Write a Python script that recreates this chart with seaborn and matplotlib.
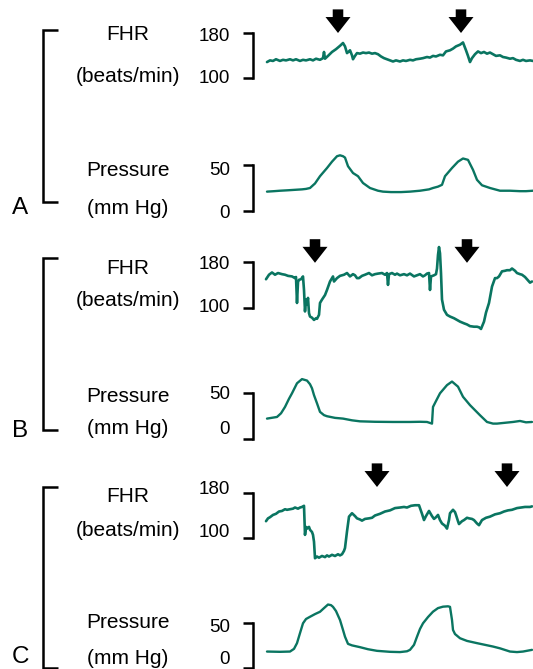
import matplotlib
matplotlib.use("Agg")
import matplotlib.pyplot as plt
from matplotlib.lines import Line2D
from matplotlib.transforms import ScaledTranslation
import seaborn as sns

# ---------------- recorded traces (time in samples, FHR in beats/min, pressure in mm Hg) ----------------
PANELS = ["A", "B", "C"]
FHR_TICKS = [100, 180]
PRESSURE_TICKS = [0, 50]

FHR_A_TIME = [1, 4, 7, 10, 14, 17, 20, 24, 27, 30, 34, 37, 40, 44, 47, 50, 54, 57, 58, 59, 62, 66, 70, 74,
              77, 79, 81, 83, 84, 86, 87, 89, 91, 94, 97, 100, 103, 106, 109, 112, 115, 118, 121, 124, 127,
              130, 134, 137, 140, 144, 147, 150, 154, 157, 161, 164, 167, 170, 174, 177, 180, 184, 187, 190,
              194, 197, 200, 202, 204, 206, 209, 212, 215, 218, 221, 224, 227, 230, 234, 237, 240, 244, 247,
              250, 254, 257, 260, 264, 267]
FHR_A_BPM = [129, 132, 131, 134, 131, 133, 132, 134, 132, 134, 131, 133, 132, 134, 132, 135, 133, 136, 147, 135,
             140, 147, 152, 158, 163, 157, 145, 148, 150, 141, 134, 140, 145, 144, 146, 145, 146, 144, 145,
             143, 139, 136, 134, 132, 130, 132, 130, 132, 131, 133, 132, 134, 135, 136, 138, 137, 140, 139,
             142, 141, 148, 150, 153, 157, 160, 164, 150, 140, 129, 136, 143, 148, 145, 147, 144, 146, 143,
             140, 141, 138, 137, 135, 136, 133, 131, 133, 131, 132, 131]

PRESSURE_A_TIME = [1, 8, 14, 22, 29, 36, 40, 44, 49, 54, 61, 66, 71, 74, 77, 79, 82, 87, 92, 97, 104, 112, 117,
                   125, 135, 144, 154, 163, 167, 172, 176, 179, 186, 192, 197, 202, 207, 211, 216, 224, 234,
                   244, 254, 260, 267]
PRESSURE_A_MMHG = [21, 21.5, 22, 22.5, 23, 23.5, 24, 25, 30, 38, 47, 54, 60, 61, 60, 58.5, 49, 41.5, 38, 30.5,
                   25, 22, 21, 20.5, 20.5, 21, 22, 23.5, 25, 26.5, 28.5, 38, 47, 54, 57.5, 56, 45, 34, 28, 25,
                   22, 22, 21.5, 21.5, 22]

FHR_B_TIME = [0, 3, 6, 9, 12, 16, 19, 22, 26, 29, 30, 31, 32, 33, 35, 37, 38, 39, 40, 41, 42, 43, 44, 46, 48,
              50, 51, 53, 54, 56, 59, 61, 64, 67, 68, 71, 74, 78, 81, 84, 87, 89, 91, 93, 96, 99, 103, 106,
              109, 112, 116, 119, 121, 122, 123, 126, 129, 131, 134, 138, 141, 144, 148, 151, 154, 157, 159,
              161, 163, 164, 165, 168, 170, 171, 172, 173, 174, 175, 176, 178, 181, 184, 188, 191, 194, 198,
              201, 204, 208, 211, 213, 215, 218, 220, 223, 226, 229, 231, 233, 236, 239, 241, 244, 246, 249,
              251, 254, 256, 259, 261, 264, 266]
FHR_B_BPM = [150, 158, 162, 158, 161, 159, 158, 156, 155, 152, 154, 108, 145, 149, 150, 155, 131, 93, 114, 105,
             117, 90, 84, 82, 78, 81, 80, 87, 108, 114, 122, 131, 146, 155, 146, 152, 156, 158, 161, 155, 159,
             157, 152, 152, 156, 158, 161, 157, 159, 160, 161, 158, 161, 140, 159, 161, 158, 160, 157, 159,
             157, 160, 155, 157, 159, 155, 157, 160, 161, 131, 155, 157, 159, 169, 193, 207, 196, 161, 114,
             96, 87, 84, 81, 78, 75, 72, 70, 67, 66, 66, 65, 62, 75, 91, 108, 137, 152, 152, 155, 164, 165,
             166, 166, 169, 165, 161, 159, 158, 154, 150, 144, 146]

PRESSURE_B_TIME = [1, 11, 15, 19, 23, 26, 31, 36, 41, 44, 46, 48, 51, 54, 58, 61, 69, 77, 86, 94, 109, 127, 144,
                   154, 161, 166, 167, 170, 174, 181, 186, 192, 197, 204, 214, 221, 227, 231, 239, 247, 254,
                   260, 266]
PRESSURE_B_MMHG = [22.2, 24, 28, 35, 44, 50, 61, 65.6, 64, 60, 55.5, 48, 39, 29.6, 26, 24.8, 23, 22.2, 20.3,
                   19.2, 18.7, 18.5, 18.5, 18.7, 18.5, 16.7, 35, 41.5, 50, 59, 62.9, 57.3, 46.2, 37, 25.9, 18.5,
                   16.7, 16.7, 17.6, 18.5, 19.6, 18.1, 18.5]

FHR_C_TIME = [0, 2, 4, 7, 10, 13, 16, 19, 21, 24, 27, 29, 32, 34, 36, 38, 39, 40, 41, 43, 44, 46, 47, 48, 49,
              51, 53, 56, 59, 61, 63, 66, 69, 72, 74, 76, 78, 79, 81, 83, 86, 89, 91, 94, 96, 99, 103, 106,
              109, 114, 119, 124, 129, 134, 138, 141, 145, 149, 153, 154, 156, 158, 160, 163, 166, 168, 170,
              172, 174, 176, 179, 181, 183, 184, 187, 189, 190, 192, 193, 196, 198, 201, 203, 206, 208, 211,
              213, 216, 220, 224, 229, 234, 238, 242, 246, 251, 255, 259, 264, 266]
FHR_C_BPM = [130, 135, 137, 141, 143, 147, 148, 151, 150, 151, 152, 154, 152, 154, 155, 157, 106, 120, 117, 120,
             115, 111, 106, 94, 65, 68, 66, 69, 67, 70, 68, 71, 69, 72, 70, 72, 78, 83, 112, 138, 144, 139, 135,
             133, 131, 134, 135, 136, 140, 143, 147, 149, 153, 154, 155, 154, 157, 158, 158, 153, 143, 132,
             139, 148, 139, 134, 137, 141, 132, 126, 122, 117, 132, 144, 150, 146, 141, 130, 125, 130, 132,
             136, 135, 134, 132, 126, 123, 132, 136, 138, 142, 144, 147, 149, 150, 153, 154, 155, 155, 156]

PRESSURE_C_TIME = [1, 14, 24, 28, 31, 34, 37, 40, 44, 49, 54, 58, 62, 65, 67, 70, 74, 77, 79, 82, 86, 94, 102,
                   111, 124, 134, 141, 144, 148, 151, 154, 157, 162, 167, 172, 177, 182, 184, 186, 187, 189,
                   194, 201, 211, 219, 227, 234, 244, 251, 257, 266]
PRESSURE_C_MMHG = [18.4, 18.1, 18.4, 21.4, 27.8, 39, 50, 54.8, 57.3, 60.3, 62.9, 67, 71, 70.3, 68.4, 63.7, 53.7,
                   42.6, 35, 27, 25.3, 23.3, 21, 19.2, 18.1, 17.8, 18.7, 20.3, 25.9, 35, 43.7, 50, 57, 63, 67,
                   68.6, 69, 68.4, 53.7, 42.6, 38, 33.3, 30.3, 27.8, 25.9, 24, 22, 18.4, 17.8, 18.4, 20.3]

# times at which the contraction arrows are placed
ARROWS_A = [72, 195]
ARROWS_B = [49, 201]
ARROWS_C = [111, 241]

TRACES = {
    "A": (FHR_A_TIME, FHR_A_BPM, PRESSURE_A_TIME, PRESSURE_A_MMHG, ARROWS_A),
    "B": (FHR_B_TIME, FHR_B_BPM, PRESSURE_B_TIME, PRESSURE_B_MMHG, ARROWS_B),
    "C": (FHR_C_TIME, FHR_C_BPM, PRESSURE_C_TIME, PRESSURE_C_MMHG, ARROWS_C),
}

# ---------------- page layout (pixels from the top-left corner) ----------------
W, H, DPI = 533, 669, 100
SPINE_X, RIGHT_X = 253, 533
TIME_LIM = (-13, 267)
LAYOUT = {
    "A": dict(fhr_px=(33.5, 78.3), prs_px=(165.3, 210.7), fhr_box=(0, 125), prs_box=(128, 228),
              bracket=(30, 202), letter_y=208, labels_y=(35, 77, 170, 209),
              fhr_shift=(-2, 1), prs_shift=(1, 3), arrow_lift=0.5),
    "B": dict(fhr_px=(262.3, 307.5), prs_px=(393.3, 438.8), fhr_box=(230, 350), prs_box=(355, 452),
              bracket=(258, 430), letter_y=431, labels_y=(269, 300, 397, 428),
              fhr_shift=(-2, 0), prs_shift=(-11, -1), arrow_lift=-0.5),
    "C": dict(fhr_px=(492.7, 538.3), prs_px=(623.3, 668.0), fhr_box=(455, 585), prs_box=(588, 669),
              bracket=(487, 667.5), letter_y=657, labels_y=(497, 531, 622, 658),
              fhr_shift=(-8, -5), prs_shift=(-10, 2), arrow_lift=5.7),
}

TRACE_COLOR = "#0a7561"
INK = "black"
LINE_W = 1.8

sns.set_style("white")
plt.rcParams["font.family"] = ["Liberation Sans", "DejaVu Sans"]

fig = plt.figure(figsize=(W / DPI, H / DPI), dpi=DPI)


def fy(py):
    return 1 - py / H


def add_trace_axes(box, tick_px, tick_vals, shifts):
    top, bottom = box
    ax = fig.add_axes([SPINE_X / W, fy(bottom), (RIGHT_X - SPINE_X) / W, (bottom - top) / H])
    ax.set_facecolor("none")
    px_hi, px_lo = tick_px
    v_lo, v_hi = tick_vals
    k = (v_hi - v_lo) / (px_lo - px_hi)
    ax.set_ylim(v_lo - (bottom - px_lo) * k, v_hi + (px_hi - top) * k)
    ax.set_xlim(*TIME_LIM)
    for side in ("top", "right", "bottom"):
        ax.spines[side].set_visible(False)
    ax.spines["left"].set_bounds(v_lo, v_hi)
    ax.spines["left"].set_linewidth(LINE_W)
    ax.spines["left"].set_color(INK)
    ax.spines["left"].set_capstyle("projecting")
    ax.set_xticks([])
    ax.set_yticks(tick_vals)
    ax.set_yticklabels([str(v) for v in tick_vals])
    ax.tick_params(axis="y", direction="out", length=7.2, width=LINE_W, pad=9.4,
                   labelsize=13.5, colors=INK, left=True)
    for lab, dy in zip(ax.get_yticklabels(), shifts):
        lab.set_transform(lab.get_transform() + ScaledTranslation(0, -dy / DPI, fig.dpi_scale_trans))
    return ax


for name in PANELS:
    fhr_t, fhr_v, prs_t, prs_v, arrows = TRACES[name]
    lay = LAYOUT[name]

    ax_f = add_trace_axes(lay["fhr_box"], lay["fhr_px"], FHR_TICKS, lay["fhr_shift"])
    sns.lineplot(x=fhr_t, y=fhr_v, ax=ax_f, color=TRACE_COLOR, linewidth=1.9,
                 estimator=None, errorbar=None)
    ax_f.set_xlabel("")
    ax_f.set_ylabel("")

    ax_p = add_trace_axes(lay["prs_box"], lay["prs_px"], PRESSURE_TICKS, lay["prs_shift"])
    sns.lineplot(x=prs_t, y=prs_v, ax=ax_p, color=TRACE_COLOR, linewidth=1.7,
                 estimator=None, errorbar=None)
    ax_p.set_xlabel("")
    ax_p.set_ylabel("")

    # contraction markers above the heart-rate trace
    lift = ScaledTranslation(0, lay["arrow_lift"] / DPI, fig.dpi_scale_trans)
    for t in arrows:
        ax_f.annotate("", xy=(t, FHR_TICKS[1]), xycoords=ax_f.transData + lift,
                      xytext=(0, 17), textcoords="offset points",
                      arrowprops=dict(arrowstyle="simple,head_length=11.5,head_width=18,tail_width=7.6",
                                      mutation_scale=1, color=INK, lw=0, shrinkA=0, shrinkB=0),
                      annotation_clip=False)

    # panel bracket grouping the two channels
    b_top, b_bot = lay["bracket"]
    fig.add_artist(Line2D([58 / W, 43 / W, 43 / W, 58 / W], [fy(b_top), fy(b_top), fy(b_bot), fy(b_bot)],
                          transform=fig.transFigure, color=INK, linewidth=LINE_W,
                          solid_joinstyle="miter", solid_capstyle="butt"))
    fig.text(20 / W, fy(lay["letter_y"]), name, ha="center", va="center", fontsize=17.5, color=INK)

    y1, y2, y3, y4 = lay["labels_y"]
    for txt, yy in (("FHR", y1), ("(beats/min)", y2), ("Pressure", y3), ("(mm Hg)", y4)):
        fig.text(128 / W, fy(yy), txt, ha="center", va="center", fontsize=15, color=INK)

fig.savefig("out.png", dpi=DPI)
